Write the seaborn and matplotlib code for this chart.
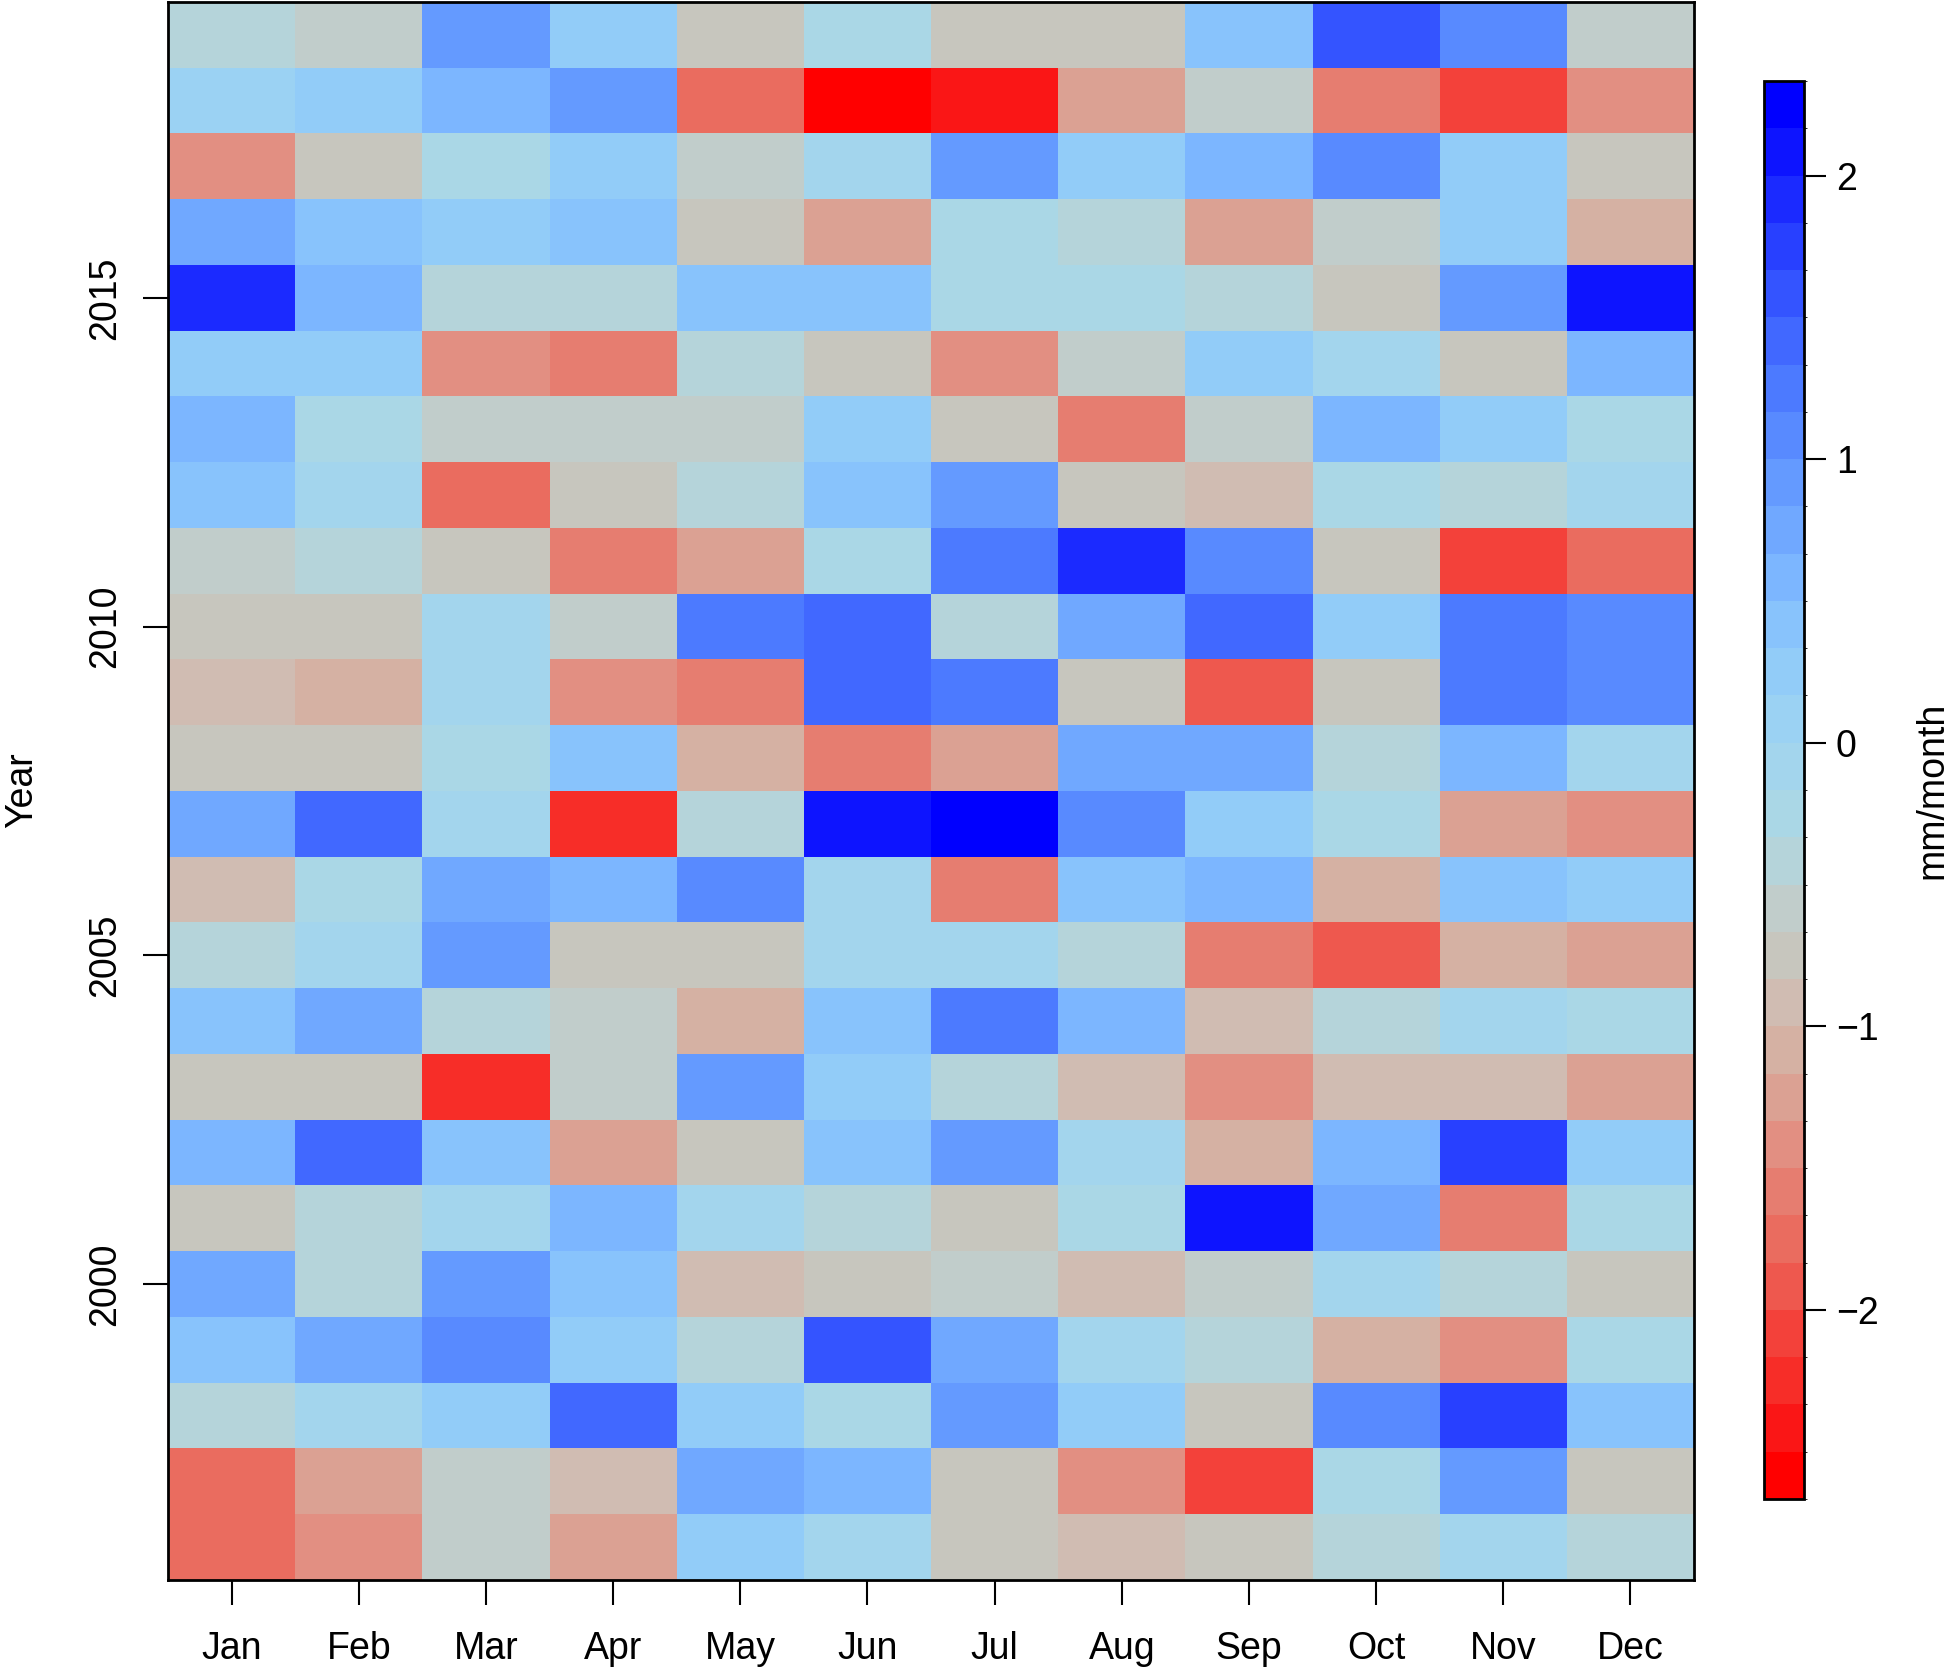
import numpy as np
import pandas as pd
import matplotlib
matplotlib.use("Agg")
import matplotlib.pyplot as plt
from matplotlib.colors import ListedColormap, BoundaryNorm
import seaborn as sns

plt.rcParams['font.family'] = ['Liberation Sans', 'DejaVu Sans']

# Monthly anomalies (mm/month), one row per year
months = ["Jan", "Feb", "Mar", "Apr", "May", "Jun",
          "Jul", "Aug", "Sep", "Oct", "Nov", "Dec"]
years = list(range(2019, 1995, -1))

r2019 = [-0.42, -0.58, 0.92, 0.2, -0.75, -0.25, -0.75, -0.75, 0.4, 1.6, 1.05, -0.6]
r2018 = [0.05, 0.2, 0.6, 0.92, -1.75, -2.6, -2.42, -1.25, -0.6, -1.58, -2.08, -1.42]
r2017 = [-1.42, -0.75, -0.25, 0.2, -0.6, -0.05, 0.92, 0.2, 0.55, 1.05, 0.2, -0.75]
r2016 = [0.7, 0.4, 0.2, 0.4, -0.75, -1.25, -0.25, -0.45, -1.25, -0.6, 0.2, -1.08]
r2015 = [1.92, 0.55, -0.35, -0.45, 0.4, 0.4, -0.25, -0.25, -0.35, -0.75, 0.92, 2.1]
r2014 = [0.2, 0.2, -1.42, -1.58, -0.45, -0.75, -1.42, -0.6, 0.2, -0.05, -0.75, 0.55]
r2013 = [0.55, -0.25, -0.6, -0.6, -0.6, 0.2, -0.75, -1.58, -0.6, 0.55, 0.2, -0.25]
r2012 = [0.4, -0.05, -1.75, -0.75, -0.35, 0.4, 0.92, -0.75, -0.92, -0.25, -0.45, -0.05]
r2011 = [-0.6, -0.45, -0.75, -1.58, -1.25, -0.25, 1.25, 1.92, 1.05, -0.75, -2.08, -1.75]
r2010 = [-0.75, -0.75, -0.05, -0.6, 1.25, 1.42, -0.35, 0.7, 1.42, 0.2, 1.25, 1.08]
r2009 = [-0.92, -1.08, -0.05, -1.42, -1.58, 1.42, 1.25, -0.75, -1.92, -0.75, 1.25, 1.08]
r2008 = [-0.75, -0.75, -0.25, 0.4, -1.08, -1.58, -1.25, 0.7, 0.7, -0.45, 0.55, -0.05]
r2007 = [0.7, 1.42, -0.05, -2.25, -0.42, 2.1, 2.25, 1.05, 0.2, -0.25, -1.25, -1.42]
r2006 = [-0.92, -0.25, 0.7, 0.55, 1.05, -0.05, -1.58, 0.4, 0.55, -1.08, 0.4, 0.2]
r2005 = [-0.35, -0.05, 0.92, -0.75, -0.75, -0.05, -0.05, -0.45, -1.58, -1.92, -1.08, -1.25]
r2004 = [0.4, 0.7, -0.35, -0.6, -1.08, 0.4, 1.25, 0.55, -0.92, -0.45, -0.05, -0.25]
r2003 = [-0.75, -0.75, -2.25, -0.6, 0.85, 0.2, -0.35, -0.92, -1.42, -0.92, -0.92, -1.25]
r2002 = [0.55, 1.42, 0.4, -1.25, -0.75, 0.4, 0.85, -0.05, -1.08, 0.55, 1.75, 0.2]
r2001 = [-0.75, -0.35, -0.05, 0.55, -0.05, -0.35, -0.75, -0.25, 2.1, 0.7, -1.58, -0.25]
r2000 = [0.7, -0.45, 0.85, 0.4, -0.92, -0.75, -0.6, -0.92, -0.6, -0.05, -0.45, -0.75]
r1999 = [0.4, 0.7, 1.05, 0.2, -0.35, 1.6, 0.7, -0.05, -0.35, -1.08, -1.42, -0.25]
r1998 = [-0.35, -0.05, 0.2, 1.42, 0.2, -0.25, 0.92, 0.2, -0.75, 1.05, 1.75, 0.4]
r1997 = [-1.75, -1.25, -0.6, -0.92, 0.75, 0.55, -0.75, -1.42, -2.08, -0.25, 0.85, -0.75]
r1996 = [-1.75, -1.42, -0.6, -1.25, 0.2, -0.05, -0.75, -0.92, -0.75, -0.35, -0.05, -0.45]

rows = [r2019, r2018, r2017, r2016, r2015, r2014, r2013, r2012, r2011, r2010,
        r2009, r2008, r2007, r2006, r2005, r2004, r2003, r2002, r2001, r2000,
        r1999, r1998, r1997, r1996]

year_ticks = [2000, 2005, 2010, 2015]
cbar_ticks = [-2, -1, 0, 1, 2]

# 30 colour steps, red -> grey -> light blue -> blue
palette = [
    (255, 0, 0), (250, 22, 22), (247, 45, 40), (243, 65, 58), (238, 88, 78),
    (234, 108, 95), (230, 125, 112), (226, 143, 130), (219, 161, 147), (213, 177, 163),
    (208, 188, 178), (199, 198, 190), (193, 205, 203), (181, 212, 218), (170, 215, 230),
    (163, 213, 237), (155, 210, 243), (146, 204, 248), (136, 195, 252), (124, 182, 255),
    (112, 168, 255), (100, 154, 255), (88, 138, 255), (76, 122, 255), (65, 104, 255),
    (52, 84, 255), (40, 64, 255), (27, 42, 255), (13, 20, 255), (0, 0, 255),
]
cmap = ListedColormap([tuple(c / 255 for c in p) for p in palette])
edges = -8 / 3 + np.arange(31) / 6
norm = BoundaryNorm(edges, cmap.N)

df = pd.DataFrame(rows, index=years, columns=months)

fig = plt.figure(figsize=(19.5, 16.67), dpi=100)
ax = fig.add_axes([168 / 1950, 1 - 1580 / 1667, (1694 - 168) / 1950, 1578 / 1667])
cax = fig.add_axes([1764 / 1950, 1 - 1499 / 1667, 40 / 1950, 1418 / 1667])

sns.heatmap(df, cmap=cmap, norm=norm, ax=ax, cbar_ax=cax,
            cbar_kws={'ticks': cbar_ticks})

for s in ax.spines.values():
    s.set_visible(True)
    s.set_linewidth(2)
    s.set_color('black')

ax.set_xticks(np.arange(len(months)) + 0.5)
ax.set_xticklabels(months, rotation=0)
ax.set_yticks([years.index(y) + 0.5 for y in year_ticks])
ax.set_yticklabels([str(y) for y in year_ticks], rotation=90, va='center')
ax.tick_params(axis='both', labelsize=27, length=18, width=1.5, color='black')
ax.tick_params(axis='x', pad=19)
ax.tick_params(axis='y', pad=14)
ax.set_xlabel('')
ax.set_ylabel('')
fig.text(22 / 1950, 1 - 790 / 1667, 'Year', rotation=90, fontsize=27,
         ha='center', va='center')

cbar = ax.collections[0].colorbar
cbar.outline.set_linewidth(2)
cbar.outline.set_edgecolor('black')
cax.tick_params(labelsize=27, length=16, width=1.5, pad=7)
cax.set_yticklabels(['\u22122', '\u22121', '0', '1', '2'])
cbar.set_label('mm/month', fontsize=27, labelpad=26)

fig.savefig('out.png', dpi=100)
